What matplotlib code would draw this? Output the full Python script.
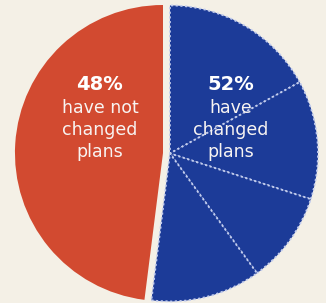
import matplotlib
matplotlib.use("Agg")
import matplotlib.pyplot as plt
import numpy as np

# shares: four sub-groups of "changed" (blue) then "not changed" (red)
changed_parts = [17, 13, 10, 12]
not_changed = 48
changed_total = sum(changed_parts)

labels_left = ["%d%%" % not_changed, "have not", "changed", "plans"]
labels_right = ["%d%%" % changed_total, "have", "changed", "plans"]

red = "#d24a30"
blue = "#1c3b98"
bg = "#f4f0e6"

fig = plt.figure(figsize=(3.26, 3.03), dpi=100)
fig.patch.set_facecolor(bg)
ax = fig.add_axes([0, 0, 1, 1])
ax.set_facecolor(bg)

sizes = changed_parts + [not_changed]
colors = [blue] * len(changed_parts) + [red]

wedges, _ = ax.pie(sizes, colors=colors, startangle=90, counterclock=False, radius=1,
                   wedgeprops=dict(edgecolor="#c3cdee", linewidth=1.3, linestyle=(0, (1.2, 1.4))))
# red half has no outline
wedges[-1].set_linestyle("-")
wedges[-1].set_edgecolor("none")

# pull the whole blue group out together
mid = np.deg2rad(90 - 360 * changed_total / 200)
shift = 0.047
for w in wedges[:-1]:
    w.set_center((shift * np.cos(mid), shift * np.sin(mid)))

# text lines: big percent, then three lines of description
line_y = [0.4257, 0.270, 0.1216, -0.027]
for x, lab in [(-0.426, labels_left), (0.459, labels_right)]:
    ax.text(x, line_y[0], lab[0], color="white", fontsize=14, fontweight="bold",
            ha="center", va="baseline", family="DejaVu Sans")
    for y, s in zip(line_y[1:], lab[1:]):
        ax.text(x, y, s, color="#f8f4f2", fontsize=12.5, ha="center",
                va="baseline", family="DejaVu Sans")

ax.set_xlim(-1.101, 1.101)
ax.set_ylim(-1.0135, 1.0338)
ax.set_aspect("auto")
ax.axis("off")

fig.savefig("out.png", dpi=100, facecolor=bg)
